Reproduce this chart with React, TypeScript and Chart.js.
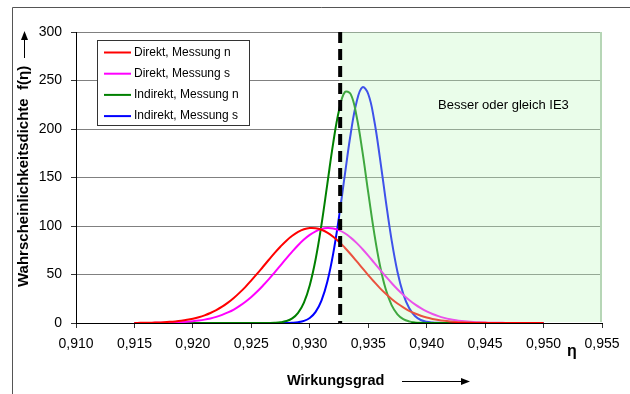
import { useEffect, useRef } from 'react';
import { Chart, registerables } from 'chart.js';

Chart.register(...registerables);

const FONT = '"Liberation Sans", Arial, sans-serif';

// Wirkungsgrad η (shared x grid)
const ETA = [
  0.915, 0.9155, 0.916, 0.9165, 0.917, 0.9175, 0.918, 0.9185, 0.919, 0.9195,
  0.92, 0.9205, 0.921, 0.9215, 0.922, 0.9225, 0.923, 0.9235, 0.924, 0.9245,
  0.925, 0.9255, 0.926, 0.9265, 0.927, 0.9275, 0.928, 0.9285, 0.929, 0.9295,
  0.93, 0.9305, 0.931, 0.9315, 0.932, 0.9325, 0.933, 0.9335, 0.934, 0.9345,
  0.935, 0.9355, 0.936, 0.9365, 0.937, 0.9375, 0.938, 0.9385, 0.939, 0.9395,
  0.94, 0.9405, 0.941, 0.9415, 0.942, 0.9425, 0.943, 0.9435, 0.944, 0.9445,
  0.945, 0.9455, 0.946, 0.9465, 0.947, 0.9475, 0.948, 0.9485, 0.949, 0.9495,
  0.95,
];

const DIREKT_N = [
  0.10, 0.16, 0.24, 0.37, 0.55, 0.81, 1.17, 1.67, 2.35, 3.25,
  4.44, 5.97, 7.91, 10.3, 13.3, 16.8, 21.0, 25.8, 31.3, 37.3,
  43.9, 50.8, 58.0, 65.2, 72.3, 78.9, 84.9, 89.9, 93.9, 96.6,
  97.9, 97.7, 96.1, 93.2, 89.0, 83.8, 77.6, 70.9, 63.8, 56.5,
  49.4, 42.5, 36.0, 30.1, 24.8, 20.1, 16.1, 12.6, 9.8, 7.5,
  5.6, 4.2, 3.05, 2.2, 1.56, 1.09, 0.75, 0.51, 0.34, 0.22,
  0.15, 0.09, 0.06, 0.04, 0.02, 0.01, 0.01, 0, 0, 0,
  0,
];

const DIREKT_S = [
  0.03, 0.04, 0.07, 0.11, 0.17, 0.26, 0.40, 0.59, 0.87, 1.26,
  1.79, 2.51, 3.47, 4.72, 6.32, 8.35, 10.9, 13.9, 17.6, 21.9,
  26.8, 32.4, 38.6, 45.2, 52.2, 59.4, 66.7, 73.6, 80.2, 86.0,
  90.8, 94.5, 97.0, 98.0, 97.5, 95.7, 92.5, 88.0, 82.6, 76.3,
  69.5, 62.3, 55.1, 48.0, 41.2, 34.8, 29.0, 23.8, 19.2, 15.3,
  12.0, 9.3, 7.1, 5.3, 3.9, 2.86, 2.06, 1.45, 1.01, 0.69,
  0.47, 0.31, 0.21, 0.13, 0.08, 0.05, 0.03, 0.02, 0.01, 0.01,
  0,
];

const INDIREKT_N = [
  0, 0, 0, 0, 0, 0, 0, 0, 0, 0,
  0, 0, 0, 0, 0, 0, 0, 0, 0, 0,
  0, 0, 0.02, 0.08, 0.26, 0.76, 1.99, 4.77, 10.5, 21.1,
  39.0, 65.7, 101.3, 143.2, 185.2, 219.1, 238.0, 236.0, 213.4, 177.1,
  134.6, 93.6, 59.6, 34.7, 18.5, 9.0, 4.03, 1.65, 0.62, 0.21,
  0.07, 0.02, 0, 0, 0, 0, 0, 0, 0, 0,
  0, 0, 0, 0, 0, 0, 0, 0, 0, 0,
  0,
];

const INDIREKT_S = [
  0, 0, 0, 0, 0, 0, 0, 0, 0, 0,
  0, 0, 0, 0, 0, 0, 0, 0, 0, 0,
  0, 0, 0, 0, 0, 0.03, 0.09, 0.28, 0.82, 2.17,
  5.22, 11.5, 23.1, 42.5, 71.2, 109.2, 152.7, 195.1, 227.6, 243.0,
  236.1, 209.8, 170.3, 126.2, 85.5, 52.8, 29.8, 15.4, 7.24, 3.11,
  1.22, 0.44, 0.14, 0.04, 0.01, 0, 0, 0, 0, 0,
  0, 0, 0, 0, 0, 0, 0, 0, 0, 0,
  0,
];

const SERIES_LABELS = ['Direkt, Messung n', 'Direkt, Messung s', 'Indirekt, Messung n', 'Indirekt, Messung s'];
const SERIES_COLORS = ['#ff0000', '#ff00ff', '#008000', '#0000ff'];
const SERIES_VALUES = [DIREKT_N, DIREKT_S, INDIREKT_N, INDIREKT_S];

const X_TICKS = [0.91, 0.915, 0.92, 0.925, 0.93, 0.935, 0.94, 0.945, 0.95, 0.955];
const X_TICK_LABELS = ['0,910', '0,915', '0,920', '0,925', '0,930', '0,935', '0,940', '0,945', '0,950', '0,955'];
const Y_TICKS = [0, 50, 100, 150, 200, 250, 300];

const IE3_LIMIT = 0.9326;
const ZONE_LABEL = 'Besser oder gleich IE3';
const X_TITLE = 'Wirkungsgrad';
const Y_TITLE = 'Wahrscheinlichkeitsdichte  f(η)';
const ETA_SYMBOL = 'η';

const decorPlugin = {
  id: 'decor',
  afterDatasetsDraw(chart: any) {
    const { ctx, chartArea, scales } = chart;
    const x0 = scales.x.getPixelForValue(IE3_LIMIT);
    const x1 = scales.x.getPixelForValue(scales.x.max);
    ctx.save();
    ctx.fillStyle = 'rgba(192,250,192,0.33)';
    ctx.fillRect(x0, chartArea.top, x1 - x0, chartArea.bottom - chartArea.top - 1);
    ctx.strokeStyle = '#b6d6b6';
    ctx.lineWidth = 2;
    ctx.beginPath();
    ctx.moveTo(x1 - 1, chartArea.top);
    ctx.lineTo(x1 - 1, chartArea.bottom - 1);
    ctx.stroke();
    ctx.strokeStyle = '#000';
    ctx.lineWidth = 4;
    ctx.setLineDash([11, 6]);
    ctx.beginPath();
    ctx.moveTo(x0, chartArea.top);
    ctx.lineTo(x0, chartArea.bottom);
    ctx.stroke();
    ctx.restore();
  },
  afterDraw(chart: any) {
    const { ctx } = chart;
    ctx.save();
    // outer frame
    ctx.strokeStyle = '#555';
    ctx.lineWidth = 1;
    ctx.beginPath();
    ctx.moveTo(12.5, 394);
    ctx.lineTo(12.5, 7.5);
    ctx.lineTo(630, 7.5);
    ctx.stroke();

    // legend
    ctx.fillStyle = '#fff';
    ctx.fillRect(97.5, 40.5, 152, 85);
    ctx.strokeStyle = '#333';
    ctx.strokeRect(97.5, 40.5, 152, 85);
    ctx.font = `12px ${FONT}`;
    ctx.textBaseline = 'middle';
    ctx.textAlign = 'left';
    SERIES_LABELS.forEach((label, i) => {
      const yy = 52.5 + i * 21.2;
      ctx.strokeStyle = SERIES_COLORS[i];
      ctx.lineWidth = 2;
      ctx.beginPath();
      ctx.moveTo(104, yy);
      ctx.lineTo(131, yy);
      ctx.stroke();
      ctx.fillStyle = '#000';
      ctx.fillText(label, 134, yy);
    });

    // zone label
    ctx.font = `13px ${FONT}`;
    ctx.fillStyle = '#000';
    ctx.fillText(ZONE_LABEL, 438, 105);

    // x title + arrow
    ctx.font = `bold 14.5px ${FONT}`;
    ctx.fillText(X_TITLE, 287, 381);
    ctx.strokeStyle = '#000';
    ctx.lineWidth = 1;
    ctx.beginPath();
    ctx.moveTo(402, 381.5);
    ctx.lineTo(463, 381.5);
    ctx.stroke();
    ctx.beginPath();
    ctx.moveTo(470, 381.5);
    ctx.lineTo(461, 378);
    ctx.lineTo(461, 385);
    ctx.closePath();
    ctx.fill();

    // eta symbol
    ctx.font = `bold 16px ${FONT}`;
    ctx.textAlign = 'center';
    ctx.textBaseline = 'alphabetic';
    ctx.fillText(ETA_SYMBOL, 572, 356);

    // y title + arrow
    ctx.save();
    ctx.translate(24, 287);
    ctx.rotate(-Math.PI / 2);
    ctx.font = `bold 15px ${FONT}`;
    ctx.textAlign = 'left';
    ctx.textBaseline = 'middle';
    ctx.fillText(Y_TITLE, 0, 0);
    ctx.restore();
    ctx.beginPath();
    ctx.moveTo(24.5, 58);
    ctx.lineTo(24.5, 38);
    ctx.stroke();
    ctx.beginPath();
    ctx.moveTo(24.5, 31);
    ctx.lineTo(21, 40);
    ctx.lineTo(28, 40);
    ctx.closePath();
    ctx.fill();
    ctx.restore();
  },
};

export default function App() {
  const canvasRef = useRef<HTMLCanvasElement | null>(null);

  useEffect(() => {
    if (!canvasRef.current) return;
    const chart = new Chart(canvasRef.current, {
      type: 'line',
      data: {
        datasets: SERIES_VALUES.map((vals, i) => ({
          label: SERIES_LABELS[i],
          data: ETA.map((x, j) => ({ x, y: vals[j] })),
          borderColor: SERIES_COLORS[i],
          backgroundColor: SERIES_COLORS[i],
          borderWidth: 2,
          pointRadius: 0,
          tension: 0.4,
          fill: false,
        })),
      },
      options: {
        animation: false,
        responsive: true,
        maintainAspectRatio: false,
        layout: { padding: { left: 0, top: 32, right: 28, bottom: 0 } },
        plugins: { legend: { display: false }, tooltip: { enabled: false } },
        scales: {
          x: {
            type: 'linear',
            min: 0.91,
            max: 0.955,
            afterBuildTicks: (s: any) => {
              s.ticks = X_TICKS.map((v) => ({ value: v }));
            },
            afterFit: (s: any) => {
              s.height = 71;
            },
            ticks: {
              autoSkip: false,
              maxRotation: 0,
              minRotation: 0,
              padding: 8,
              color: '#000',
              font: { family: FONT, size: 14 },
              callback: (_v: any, i: number) => X_TICK_LABELS[i],
            },
            grid: { drawOnChartArea: false, drawTicks: true, tickLength: 5, tickColor: '#333' },
            border: { display: true, color: '#000', width: 1 },
          },
          y: {
            type: 'linear',
            min: 0,
            max: 300,
            afterBuildTicks: (s: any) => {
              s.ticks = Y_TICKS.map((v) => ({ value: v }));
            },
            afterFit: (s: any) => {
              s.width = 76;
            },
            ticks: {
              padding: 9,
              color: '#000',
              font: { family: FONT, size: 14 },
              callback: (v: any) => String(v),
            },
            grid: { color: '#808080', lineWidth: 1, drawTicks: true, tickLength: 5, tickColor: '#333' },
            border: { display: true, color: '#000', width: 1 },
          },
        },
      },
      plugins: [decorPlugin],
    } as any);
    return () => chart.destroy();
  }, []);

  return (
    <div style={{ position: 'absolute', left: 0, top: 0, width: 630, height: 394, background: '#fff' }}>
      <canvas ref={canvasRef} />
    </div>
  );
}
